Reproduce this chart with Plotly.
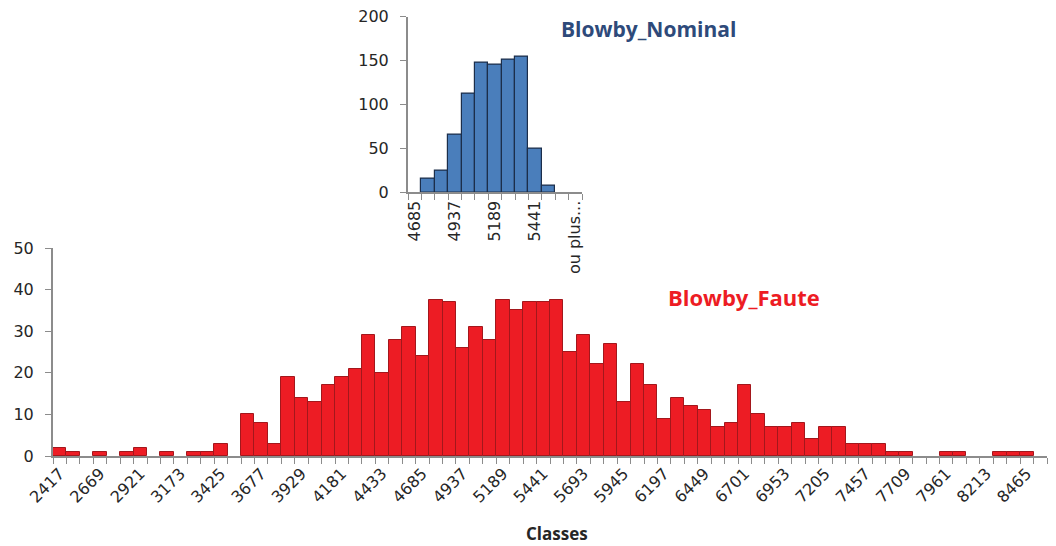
import plotly.graph_objects as go

# ---- Data ----
faute_classes = [str(2417 + 84 * i) for i in range(73)] + ["ou plus..."]
faute_counts = [
    2, 1, 0, 1, 0, 1, 2, 0, 1, 0, 1, 1, 3, 0,
    10, 8, 3, 19, 14, 13, 17, 19, 21, 29, 20, 28, 31, 24,
    37.4, 37, 26, 31, 28, 37.4, 35, 37, 37, 37.4, 25, 29, 22, 27,
    13, 22, 17, 9, 14, 12, 11, 7, 8, 17, 10, 7, 7, 8,
    4, 7, 7, 3, 3, 3, 1, 1, 0, 0, 1, 1, 0, 0, 1, 1, 1, 0,
]
nominal_classes = ["4685", "4769", "4853", "4937", "5021", "5105", "5189",
                   "5273", "5357", "5441", "5525", "5609", "ou plus..."]
nominal_counts = [0, 15, 25, 66, 112, 148, 145, 151, 155, 50, 8, 0, 0]

faute_ticktext = [c if i % 3 == 0 and c != "ou plus..." else "" for i, c in enumerate(faute_classes)]
nominal_ticktext = [c if i % 3 == 0 else "" for i, c in enumerate(nominal_classes)]

W, H = 1056, 546
def fx(px):
    return px / W
def fy(py):
    return (H - py) / H

AXIS_COL = "#8c8c8c"
TXT_COL = "#262626"
TICKFONT = dict(family="DejaVu Sans", size=16, color=TXT_COL)

fig = go.Figure()
fig.add_trace(go.Bar(
    x=faute_classes, y=faute_counts, xaxis="x", yaxis="y",
    marker=dict(color="#ED1C24",
                line=dict(color="#A3171C", width=[1 if v > 0 else 0 for v in faute_counts])),
    showlegend=False,
))
fig.add_trace(go.Bar(
    x=nominal_classes, y=nominal_counts, xaxis="x2", yaxis="y2",
    marker=dict(color="#4A7EBB",
                line=dict(color="#1C2E4A", width=[1.2 if v > 0 else 0 for v in nominal_counts])),
    showlegend=False,
))

fig.update_layout(
    width=W, height=H,
    margin=dict(l=0, r=0, t=0, b=0),
    paper_bgcolor="white", plot_bgcolor="white",
    bargap=0,
    xaxis=dict(
        domain=[fx(53), fx(1047)], anchor="y", type="category", automargin=False,
        tickmode="array", tickvals=faute_classes, ticktext=faute_ticktext,
        tickson="boundaries", ticks="outside", ticklen=6, tickcolor=AXIS_COL,
        showline=True, linecolor=AXIS_COL, linewidth=2, showgrid=False,
        tickangle=-45, tickfont=TICKFONT,
    ),
    yaxis=dict(
        domain=[fy(456), fy(248)], anchor="x", range=[0, 50], dtick=10, automargin=False,
        ticks="outside", ticklen=6, tickcolor=AXIS_COL,
        showline=True, linecolor=AXIS_COL, linewidth=2, showgrid=False,
        zeroline=False, tickfont=TICKFONT, ticklabelstandoff=8,
    ),
    xaxis2=dict(
        domain=[fx(408), fx(582)], anchor="y2", type="category", automargin=False,
        tickmode="array", tickvals=nominal_classes, ticktext=nominal_ticktext,
        tickson="boundaries", ticks="outside", ticklen=6, tickcolor=AXIS_COL,
        showline=True, linecolor=AXIS_COL, linewidth=2, showgrid=False,
        tickangle=-90, tickfont=TICKFONT,
    ),
    yaxis2=dict(
        domain=[fy(192.3), fy(16.7)], anchor="x2", range=[0, 200], dtick=50, automargin=False,
        ticks="outside", ticklen=6, tickcolor=AXIS_COL,
        showline=True, linecolor=AXIS_COL, linewidth=2, showgrid=False,
        zeroline=False, tickfont=TICKFONT, ticklabelstandoff=8,
    ),
    annotations=[
        dict(text="<b>Blowby_Nominal</b>", x=fx(648), y=fy(29), xref="paper", yref="paper",
             showarrow=False, xanchor="center", yanchor="middle",
             font=dict(family="Open Sans", size=21, color="#2E4A7A")),
        dict(text="<b>Blowby_Faute</b>", x=fx(744), y=fy(297), xref="paper", yref="paper",
             showarrow=False, xanchor="center", yanchor="middle",
             font=dict(family="Open Sans", size=22, color="#ED1C24")),
        dict(text="<b>Classes</b>", x=fx(557), y=fy(533), xref="paper", yref="paper",
             showarrow=False, xanchor="center", yanchor="middle",
             font=dict(family="Open Sans", size=17, color=TXT_COL)),
    ],
)

fig.write_html(
    "out.html",
    config={"displayModeBar": False},
    post_script="document.body.style.margin='0';document.body.style.padding='0';",
)
